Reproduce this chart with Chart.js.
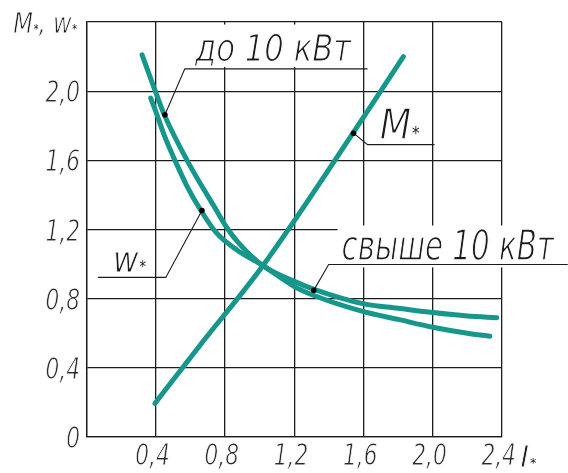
<!DOCTYPE html>
<html>
<head>
<meta charset="utf-8">
<script src="https://cdn.jsdelivr.net/npm/chart.js@4.4.0/dist/chart.umd.min.js"></script>
<style>
  html, body { margin: 0; background: #fff; }
  #wrap { width: 568px; height: 473px; }
</style>
</head>
<body>
<div id="wrap"><canvas id="chart" width="568" height="473"></canvas></div>
<script>
// --- Data ---
// w* curve, "до 10 кВт"
const wLowX = [0.32, 0.40, 0.45, 0.58, 0.75, 0.81, 0.88, 1.02, 1.20, 1.31, 1.60, 1.80, 2.00, 2.20, 2.37];
const wLowY = [2.21, 1.99, 1.86, 1.60, 1.31, 1.21, 1.12, 0.99, 0.90, 0.855, 0.77, 0.745, 0.72, 0.70, 0.69];
// w* curve, "свыше 10 кВт"
const wHighX = [0.37, 0.40, 0.45, 0.51, 0.58, 0.66, 0.75, 0.87, 1.02, 1.20, 1.31, 1.60, 1.80, 2.00, 2.20, 2.33];
const wHighY = [1.96, 1.88, 1.74, 1.60, 1.45, 1.31, 1.18, 1.08, 0.99, 0.87, 0.82, 0.725, 0.68, 0.635, 0.60, 0.583];
// M* curve
const mX = [0.394, 0.655, 1.019, 1.60, 1.83];
const mY = [0.194, 0.531, 0.992, 1.85, 2.20];

const xTickLabels = ['', '0,4', '0,8', '1,2', '1,6', '2,0', '2,4'];
const yTickLabels = ['0', '0,4', '0,8', '1,2', '1,6', '2,0', ''];

const TEAL = '#17968b';
const INK = '#1c1c1c';
const FONT = '"DejaVu Sans", "Liberation Sans", sans-serif';

function toPoints(xs, ys) {
  return xs.map((x, i) => ({ x, y: ys[i] }));
}

function curve(xs, ys) {
  return {
    data: toPoints(xs, ys),
    showLine: true,
    borderColor: TEAL,
    borderWidth: 5,
    borderCapStyle: 'round',
    pointRadius: 0,
    cubicInterpolationMode: 'monotone',
    fill: false
  };
}

function setFont(ctx, size) {
  ctx.font = `italic ${size}px ${FONT}`;
}

// natural width of a label where '*' is drawn small
function starWidth(ctx, str, size) {
  let w = 0;
  str.split(/(\*)/).forEach(part => {
    if (!part) return;
    setFont(ctx, part === '*' ? size * 0.42 : size);
    w += ctx.measureText(part).width + (part === '*' ? 0 : 1);
  });
  return w;
}

// draw label squeezed to the given width (narrow drafting lettering),
// then thin the strokes by eroding the edges with white
function starText(ctx, str, x, y, size, width, thin) {
  const k = width ? width / starWidth(ctx, str, size) : 1;
  ctx.save();
  ctx.translate(x, y);
  ctx.scale(k, 1);
  let cx = 0;
  str.split(/(\*)/).forEach(part => {
    if (!part) return;
    setFont(ctx, part === '*' ? size * 0.42 : size);
    ctx.fillText(part, cx, 0);
    if (thin && part !== '*') {
      ctx.strokeStyle = '#fff';
      ctx.lineWidth = thin;
      ctx.lineJoin = 'round';
      ctx.strokeText(part, cx, 0);
    }
    cx += ctx.measureText(part).width + (part === '*' ? 0 : 1);
  });
  ctx.restore();
}

// --- Labels and leaders (data coordinates) ---
const notes = [
  { text: 'до 10 кВт', x: 0.626, y: 2.175, size: 37, width: 157, thin: 1.2, box: [0.60, 2.385, 1.555, 2.14],
    line: [[0.452, 1.864], [0.567, 2.129], [1.623, 2.129]], dot: [0.452, 1.864] },
  { text: 'M*', x: 1.693, y: 1.725, size: 42, width: 40, thin: 1.3,
    line: [[1.542, 1.757], [1.623, 1.691], [2.01, 1.691]], dot: [1.542, 1.757] },
  { text: 'w*', x: 0.152, y: 0.952, size: 36, width: 33, thin: 0.9,
    line: [[0.666, 1.31], [0.457, 0.923], [0.065, 0.923]], dot: [0.666, 1.31] },
  { text: 'свыше 10 кВт', x: 1.473, y: 1.021, size: 42, width: 213, thin: 1.3, box: [1.45, 1.223, 2.80, 0.981],
    line: [[1.312, 0.848], [1.398, 0.998], [2.78, 0.998]], dot: [1.312, 0.848] },
  { text: 'M*, w*', x: -0.425, y: 2.337, size: 29, width: 64, thin: 0.9 },
  { text: 'I*', x: 2.505, y: -0.173, size: 30, thin: 0.9 }
];

const TICK_SIZE = 31;
const TICK_SQUEEZE = 0.7;

const notesPlugin = {
  id: 'notes',
  afterDraw(chart) {
    const ctx = chart.ctx;
    const sx = chart.scales.x, sy = chart.scales.y;
    const px = v => sx.getPixelForValue(v);
    const py = v => sy.getPixelForValue(v);
    const area = chart.chartArea;
    ctx.save();
    ctx.textBaseline = 'alphabetic';
    ctx.textAlign = 'left';

    // tick labels
    sx.ticks.forEach((t, i) => {
      const s = xTickLabels[i];
      if (!s) return;
      const w = starWidth(ctx, s, TICK_SIZE) * TICK_SQUEEZE;
      ctx.fillStyle = '#2a2a2a';
      starText(ctx, s, px(t.value) - w / 2 - 3, area.bottom + 28, TICK_SIZE, w, 0.9);
    });
    sy.ticks.forEach((t, i) => {
      const s = yTickLabels[i];
      if (!s) return;
      const w = starWidth(ctx, s, TICK_SIZE) * TICK_SQUEEZE;
      ctx.fillStyle = '#2a2a2a';
      starText(ctx, s, area.left - 6 - w, py(t.value) + 11, TICK_SIZE, w, 0.9);
    });

    notes.forEach(n => {
      if (n.box) {
        ctx.fillStyle = '#fff';
        ctx.fillRect(px(n.box[0]), py(n.box[1]), px(n.box[2]) - px(n.box[0]), py(n.box[3]) - py(n.box[1]));
      }
      if (n.line) {
        ctx.strokeStyle = INK;
        ctx.lineWidth = 1.1;
        ctx.beginPath();
        n.line.forEach((p, i) => {
          if (i === 0) ctx.moveTo(px(p[0]), py(p[1]));
          else ctx.lineTo(px(p[0]), py(p[1]));
        });
        ctx.stroke();
      }
      if (n.dot) {
        ctx.fillStyle = '#000';
        ctx.beginPath();
        ctx.arc(px(n.dot[0]), py(n.dot[1]), 2.8, 0, Math.PI * 2);
        ctx.fill();
      }
      ctx.fillStyle = INK;
      starText(ctx, n.text, px(n.x), py(n.y), n.size, n.width, n.thin);
    });
    ctx.restore();
  }
};

new Chart(document.getElementById('chart'), {
  type: 'scatter',
  data: {
    datasets: [curve(wLowX, wLowY), curve(wHighX, wHighY), curve(mX, mY)]
  },
  options: {
    responsive: false,
    animation: false,
    layout: { padding: { left: 0, top: 22, right: 66, bottom: 0 } },
    plugins: { legend: { display: false }, tooltip: { enabled: false } },
    scales: {
      x: {
        type: 'linear', min: 0, max: 2.4,
        afterFit: s => { s.height = 36; },
        ticks: { stepSize: 0.4, display: false },
        grid: { color: INK, lineWidth: 1.3, drawTicks: false },
        border: { color: INK, width: 1.3 }
      },
      y: {
        type: 'linear', min: 0, max: 2.4,
        afterFit: s => { s.width = 86.7; },
        ticks: { stepSize: 0.4, display: false },
        grid: { color: INK, lineWidth: 1.3, drawTicks: false },
        border: { color: INK, width: 1.3 }
      }
    }
  },
  plugins: [notesPlugin]
});
</script>
</body>
</html>
